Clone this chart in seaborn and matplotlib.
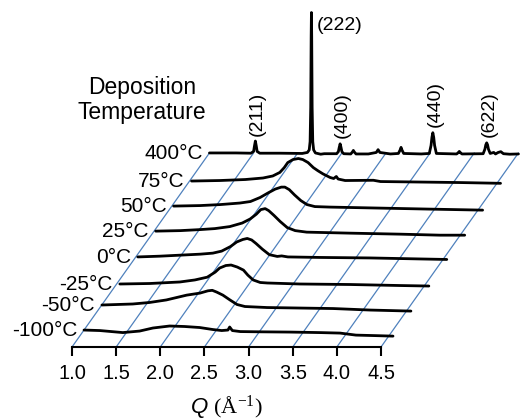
import matplotlib
matplotlib.use("Agg")
import numpy as np
import seaborn as sns
from matplotlib import pyplot as plt

# Deposition temperatures, bottom trace first
temps = ["-100°C", "-50°C", "-25°C", "0°C", "25°C", "50°C", "75°C", "400°C"]

# Q (1/A) and intensity (in units of the trace spacing)
q_m100 = [1.00, 1.18, 1.44, 1.63, 1.78, 1.97, 2.14, 2.31, 2.46, 2.56, 2.63, 2.65, 2.68, 2.77, 2.99, 3.33, 3.67, 3.90, 4.08, 4.30, 4.50]
i_m100 = [0.00, -0.02, -0.10, -0.04, 0.08, 0.16, 0.14, 0.10, 0.02, -0.02, 0.00, 0.12, -0.02, -0.06, -0.07, -0.08, -0.10, -0.12, -0.20, -0.22, -0.24]

q_m50 = [1.00, 1.35, 1.54, 1.73, 1.96, 2.11, 2.20, 2.25, 2.30, 2.37, 2.45, 2.53, 2.62, 2.87, 3.24, 3.62, 4.04, 4.50]
i_m50 = [-0.01, 0.03, 0.09, 0.19, 0.38, 0.46, 0.55, 0.57, 0.50, 0.38, 0.19, 0.01, -0.07, -0.11, -0.13, -0.15, -0.21, -0.25]

q_m25 = [1.00, 1.34, 1.68, 1.85, 1.99, 2.08, 2.13, 2.20, 2.26, 2.33, 2.40, 2.45, 2.51, 2.59, 2.67, 3.04, 3.61, 4.17, 4.50]
i_m25 = [-0.18, -0.16, -0.10, -0.02, 0.09, 0.29, 0.45, 0.55, 0.57, 0.49, 0.37, 0.17, -0.02, -0.12, -0.14, -0.18, -0.20, -0.24, -0.26]

q_0 = [1.00, 1.25, 1.48, 1.71, 1.85, 1.95, 2.05, 2.12, 2.19, 2.24, 2.29, 2.34, 2.41, 2.49, 2.58, 2.63, 2.70, 3.06, 3.63, 4.20, 4.50]
i_0 = [-0.11, -0.08, -0.04, 0.00, 0.04, 0.12, 0.30, 0.48, 0.58, 0.62, 0.56, 0.42, 0.20, -0.02, -0.09, -0.07, -0.11, -0.13, -0.15, -0.19, -0.21]

q_25 = [1.00, 1.28, 1.50, 1.67, 1.84, 1.98, 2.07, 2.14, 2.19, 2.24, 2.28, 2.34, 2.41, 2.49, 2.58, 2.71, 3.20, 3.77, 4.22, 4.50]
i_25 = [-0.09, -0.07, -0.03, 0.01, 0.09, 0.23, 0.39, 0.58, 0.76, 0.80, 0.72, 0.53, 0.29, 0.05, -0.07, -0.13, -0.17, -0.21, -0.25, -0.25]

q_50 = [1.00, 1.30, 1.53, 1.75, 1.87, 1.98, 2.07, 2.15, 2.22, 2.26, 2.31, 2.37, 2.44, 2.51, 2.60, 2.77, 3.34, 3.90, 4.50]
i_50 = [-0.10, -0.08, -0.04, 0.02, 0.08, 0.24, 0.42, 0.57, 0.65, 0.65, 0.55, 0.34, 0.12, -0.04, -0.12, -0.14, -0.18, -0.22, -0.26]

q_75 = [1.00, 1.32, 1.61, 1.81, 1.92, 2.00, 2.05, 2.09, 2.15, 2.21, 2.26, 2.32, 2.38, 2.43, 2.49, 2.57, 2.61, 2.64, 2.66, 2.74, 3.06, 3.14, 3.59, 4.04, 4.50]
i_75 = [-0.11, -0.09, -0.05, 0.01, 0.09, 0.23, 0.42, 0.62, 0.74, 0.78, 0.74, 0.62, 0.42, 0.30, 0.17, 0.03, -0.01, 0.07, -0.03, -0.09, -0.08, -0.13, -0.15, -0.17, -0.20]

q_400 = [1.00, 1.30, 1.47, 1.50, 1.51, 1.52, 1.53, 1.54, 1.57, 1.80, 2.05, 2.11, 2.13, 2.14, 2.147, 2.152, 2.155,
         2.158, 2.163, 2.17, 2.18, 2.20, 2.26, 2.30, 2.44, 2.46, 2.47, 2.48, 2.49, 2.50, 2.52, 2.60, 2.62, 2.63,
         2.64, 2.66, 2.80, 2.89, 2.91, 2.93, 3.05, 3.14, 3.16, 3.17, 3.18, 3.20, 3.40, 3.49, 3.51, 3.52, 3.53,
         3.54, 3.55, 3.57, 3.80, 3.82, 3.83, 3.84, 3.86, 4.10, 4.12, 4.13, 4.14, 4.15, 4.16, 4.18, 4.22, 4.24,
         4.27, 4.30, 4.33, 4.40, 4.50]
i_400 = [0.00, 0.00, -0.01, 0.06, 0.28, 0.47, 0.28, 0.06, -0.01, -0.01, -0.02, 0.02, 0.12, 0.45, 1.80, 4.60, 5.55,
         4.60, 1.80, 0.45, 0.12, 0.00, -0.05, -0.03, -0.03, 0.05, 0.22, 0.36, 0.22, 0.05, -0.03, -0.04, 0.04, 0.10,
         0.04, -0.04, -0.04, 0.02, 0.13, 0.02, -0.04, -0.02, 0.12, 0.22, 0.12, -0.02, -0.04, -0.02, 0.30, 0.62, 0.80,
         0.62, 0.30, -0.02, -0.04, 0.02, 0.06, 0.02, -0.04, -0.03, 0.15, 0.32, 0.40, 0.32, 0.15, -0.02, 0.02, -0.04,
         0.02, 0.05, -0.03, -0.05, -0.04]

traces_q = [q_m100, q_m50, q_m25, q_0, q_25, q_50, q_75, q_400]
traces_i = [i_m100, i_m50, i_m25, i_0, i_25, i_50, i_75, i_400]

peak_labels = ["(211)", "(222)", "(400)", "(440)", "(622)"]
peak_q = [1.52, 2.155, 2.48, 3.53, 4.14]

q_ticks = [1.0, 1.5, 2.0, 2.5, 3.0, 3.5, 4.0, 4.5]

# waterfall geometry
first_offset = 0.67   # height of the lowest trace above the axis
step = 1.0            # vertical step between traces
skew = 0.203          # Q shift per unit of height
grid_color = "#4f81bd"

sns.set_theme(style="white")
plt.rcParams["font.family"] = ["Liberation Sans", "DejaVu Sans"]
plt.rcParams["mathtext.fontset"] = "custom"
plt.rcParams["mathtext.rm"] = "Liberation Serif"
plt.rcParams["mathtext.it"] = "Liberation Sans:italic"

fig = plt.figure(figsize=(5.2, 4.2), dpi=100)
ax = fig.add_axes([72 / 520, 73 / 420, 309 / 520, 342 / 420])
ax.set_xlim(1.0, 4.5)
ax.set_ylim(0, 342 / 25.3)

offsets = [first_offset + k * step for k in range(len(temps))]
top = offsets[-1]

# slanted guide lines
for q in q_ticks:
    ax.plot([q, q + skew * top], [0, top], color=grid_color, lw=0.9, clip_on=False, zorder=1)

for label, qs, ints, off in zip(temps, traces_q, traces_i, offsets):
    x = np.array(qs) + skew * off
    y = np.array(ints) + off
    sns.lineplot(x=x, y=y, ax=ax, color="black", lw=2.0, sort=False, clip_on=False, zorder=3)
    ax.annotate(label, xy=(x[0], y[0]), xytext=(-5, -0.5), textcoords="offset points",
                ha="right", va="center", fontsize=15, color="black", annotation_clip=False)

# reflection labels on the 400 C trace
off400 = offsets[-1]
for name, pq in zip(peak_labels, peak_q):
    h = i_400[q_400.index(pq)]
    xy = (pq + skew * off400, off400 + h)
    if name == "(222)":
        ax.annotate(name, xy=xy, xytext=(4, -9), textcoords="offset points",
                    ha="left", va="center", fontsize=14, color="black", annotation_clip=False)
    else:
        ax.annotate(name, xy=xy, xytext=(1.5, 4), textcoords="offset points",
                    ha="center", va="bottom", rotation=90, fontsize=14, color="black",
                    annotation_clip=False)

fig.text(142 / 520, 1 - 100 / 420, "Deposition\nTemperature", ha="center", va="center",
         fontsize=16.5, linespacing=1.1, color="black")

sns.despine(ax=ax, left=True)
ax.spines["bottom"].set_linewidth(1.5)
ax.spines["bottom"].set_color("black")
ax.set_yticks([])
ax.set_xticks(q_ticks)
ax.set_xticklabels([f"{t:.1f}" for t in q_ticks])
ax.tick_params(axis="x", direction="out", length=6.5, width=1.5, pad=6, labelsize=14.5,
               colors="black", bottom=True)
ax.set_xlabel(r"$\mathit{Q}\ \mathrm{(Å^{-1})}$", fontsize=16, labelpad=7, color="black")
ax.set_facecolor("none")

fig.savefig("out.png", dpi=100)
